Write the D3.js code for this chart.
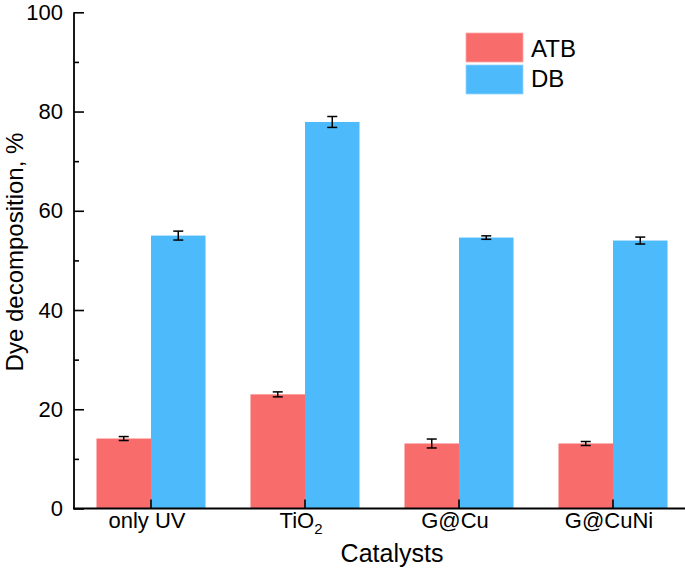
<!DOCTYPE html>
<html><head><meta charset="utf-8">
<script src="https://cdn.jsdelivr.net/npm/d3@7"></script>
<style>body{margin:0;background:#fff}svg{display:block}text{font-family:Arial,"Liberation Sans",sans-serif;fill:#000}</style>
</head><body>
<svg id="c" width="685" height="571"></svg>
<script>
const categories = ["only UV", "TiO2", "G@Cu", "G@CuNi"];
const seriesNames = ["ATB", "DB"];
const atbValues = [14.1, 23.0, 13.1, 13.1];
const atbErrors = [0.4, 0.5, 0.9, 0.4];
const dbValues = [55.0, 77.9, 54.6, 54.0];
const dbErrors = [0.9, 1.1, 0.35, 0.7];
const yTicks = [0, 20, 40, 60, 80, 100];
const yMinorTicks = [10, 30, 50, 70, 90];
const colors = ["#F96C6C", "#4DBAFC"];

const svg = d3.select("#c");
const x = d3.scaleBand().domain(categories).range([74, 690]).paddingInner(0.292).paddingOuter(0.146);
const xs = d3.scaleBand().domain(seriesNames).range([0, x.bandwidth()]);
const y = d3.scaleLinear().domain([0, 100]).range([508.5, 12.3]);

const series = [
  {name: "ATB", values: atbValues, errors: atbErrors},
  {name: "DB", values: dbValues, errors: dbErrors}
];

// bars
series.forEach((s, si) => {
  const g = svg.append("g");
  g.selectAll("rect").data(categories).join("rect")
    .attr("x", c => x(c) + xs(s.name))
    .attr("y", (c, i) => y(s.values[i]))
    .attr("width", xs.bandwidth())
    .attr("height", (c, i) => y(0) - y(s.values[i]))
    .attr("fill", colors[si]);
  // error bars
  const eg = svg.append("g").attr("stroke", "#000").attr("stroke-width", 1.5);
  categories.forEach((c, i) => {
    const cx = x(c) + xs(s.name) + xs.bandwidth() / 2;
    const y1 = y(s.values[i] + s.errors[i]), y2 = y(s.values[i] - s.errors[i]);
    eg.append("line").attr("x1", cx).attr("x2", cx).attr("y1", y1).attr("y2", y2);
    eg.append("line").attr("x1", cx - 5).attr("x2", cx + 5).attr("y1", y1).attr("y2", y1);
    eg.append("line").attr("x1", cx - 5).attr("x2", cx + 5).attr("y1", y2).attr("y2", y2);
  });
});

// y axis (ticks inward)
const yAxis = d3.axisRight(y).tickValues(yTicks).tickSize(10).tickFormat("");
const ya = svg.append("g").attr("transform", "translate(74,0)").call(yAxis);
ya.select(".domain").remove();
ya.selectAll("line").attr("stroke", "#000").attr("stroke-width", 1.6);
const yMinor = d3.axisRight(y).tickValues(yMinorTicks).tickSize(5).tickFormat("");
const ym = svg.append("g").attr("transform", "translate(74,0)").call(yMinor);
ym.select(".domain").remove();
ym.selectAll("line").attr("stroke", "#000").attr("stroke-width", 1.6);
svg.append("g").selectAll("text").data(yTicks).join("text")
  .attr("x", 63).attr("y", d => y(d) + 7.5).attr("text-anchor", "end")
  .attr("font-size", 22).text(d => d);
svg.append("line").attr("x1", 74).attr("x2", 74).attr("y1", y(100)).attr("y2", y(0) + 0.8)
  .attr("stroke", "#000").attr("stroke-width", 1.8);

// x axis (ticks inward)
const xAxis = d3.axisTop(x).tickSize(9).tickFormat("");
const xa = svg.append("g").attr("transform", `translate(0,${y(0)})`).call(xAxis);
xa.select(".domain").remove();
xa.selectAll("line").attr("stroke", "#000").attr("stroke-width", 1.6);
svg.append("line").attr("x1", 73).attr("x2", 685).attr("y1", y(0)).attr("y2", y(0))
  .attr("stroke", "#000").attr("stroke-width", 1.8);
const xl = svg.append("g").selectAll("text").data(categories).join("text")
  .attr("x", c => x(c) + x.bandwidth() / 2 - 4).attr("y", 528)
  .attr("text-anchor", "middle").attr("font-size", 22);
xl.each(function(c) {
  const t = d3.select(this);
  if (c === "TiO2") {
    t.append("tspan").text("TiO");
    t.append("tspan").attr("font-size", 15).attr("dy", 6).text("2");
  } else t.text(c);
});

// axis titles
svg.append("text").attr("x", 392).attr("y", 562).attr("text-anchor", "middle")
  .attr("font-size", 25).text("Catalysts");
svg.append("text").attr("transform", "translate(23,252) rotate(-90)")
  .attr("text-anchor", "middle").attr("font-size", 24).text("Dye decomposition, %");

// legend
const lg = svg.append("g");
series.forEach((s, si) => {
  lg.append("rect").attr("x", 466).attr("y", 33 + si * 32).attr("width", 57).attr("height", 29)
    .attr("fill", colors[si]).attr("stroke", si ? "#9ad6fd" : "#fca9a9").attr("stroke-width", 0.8);
  lg.append("text").attr("x", 531).attr("y", 57 + si * 30).attr("font-size", 24).text(s.name);
});
</script>
</body></html>
